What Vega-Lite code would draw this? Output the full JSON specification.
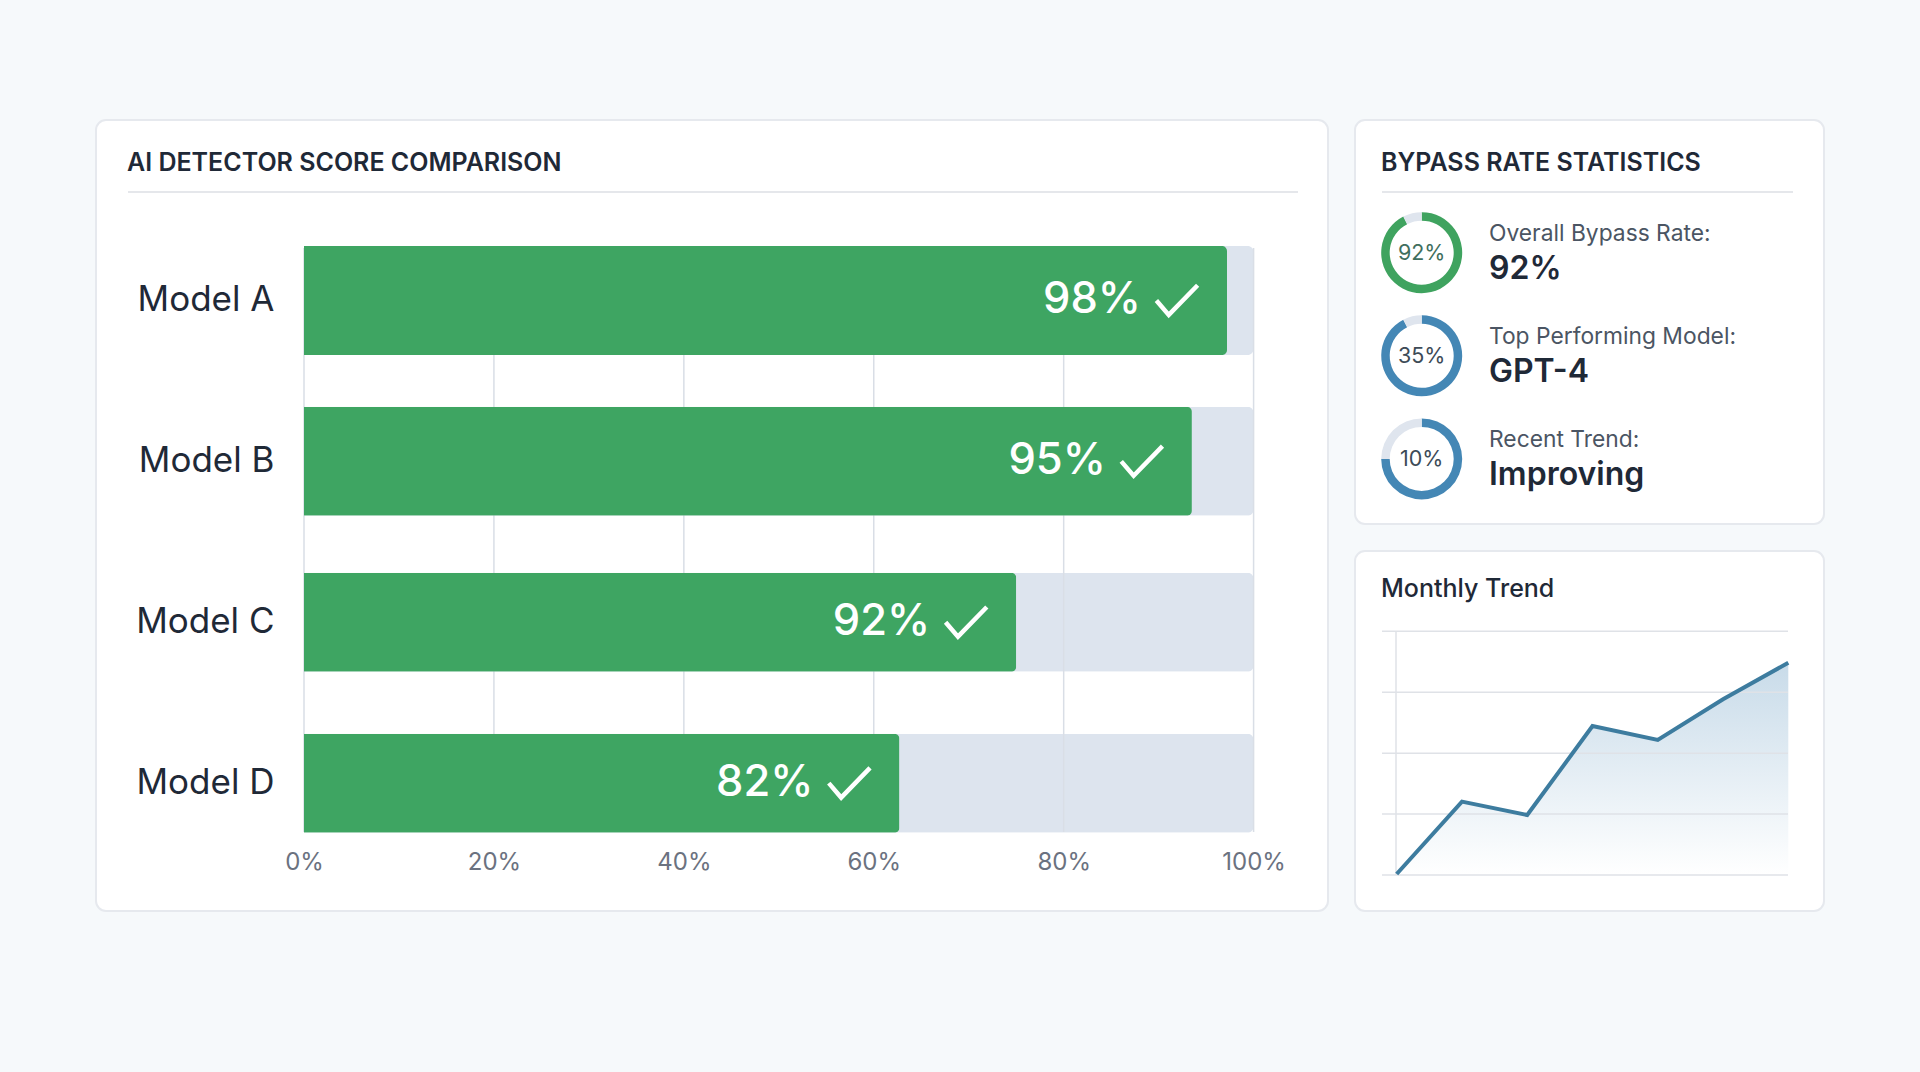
{
  "$schema": "https://vega.github.io/schema/vega-lite/v6.json",
  "background": "#f6f9fb",
  "padding": {"left": 95, "top": 119, "right": 96, "bottom": 162},
  "config": {"font": "Inter", "view": {"stroke": null}},
  "spacing": 25,
  "datasets": {
    "models": [
      {"model": "Model A", "bar": 97.2, "score": "98%", "track": 100},
      {"model": "Model B", "bar": 93.5, "score": "95%", "track": 100},
      {"model": "Model C", "bar": 75, "score": "92%", "track": 100},
      {"model": "Model D", "bar": 62.7, "score": "82%", "track": 100}
    ],
    "ticks": [{"tick": 0}, {"tick": 20}, {"tick": 40}, {"tick": 60}, {"tick": 80}, {"tick": 100}],
    "stats": [
      {"metric": "Overall Bypass Rate:", "ring": "92%", "value": "92%"},
      {"metric": "Top Performing Model:", "ring": "35%", "value": "GPT-4"},
      {"metric": "Recent Trend:", "ring": "10%", "value": "Improving"}
    ],
    "arcs": [
      {"metric": "Overall Bypass Rate:", "kind": "green", "from": 0, "to": 92.5},
      {"metric": "Overall Bypass Rate:", "kind": "rest", "from": 92.5, "to": 100},
      {"metric": "Top Performing Model:", "kind": "blue", "from": 0, "to": 92.5},
      {"metric": "Top Performing Model:", "kind": "rest", "from": 92.5, "to": 100},
      {"metric": "Recent Trend:", "kind": "blue", "from": 0, "to": 75},
      {"metric": "Recent Trend:", "kind": "rest", "from": 75, "to": 100}
    ],
    "trend": [
      {"month": "Jan", "rate": 0.4},
      {"month": "Feb", "rate": 30.1},
      {"month": "Mar", "rate": 24.6},
      {"month": "Apr", "rate": 61.1},
      {"month": "May", "rate": 55.4},
      {"month": "Jun", "rate": 72.1},
      {"month": "Jul", "rate": 87.1}
    ],
    "levels": [{"level": 0}, {"level": 25}, {"level": 50}, {"level": 75}, {"level": 100}]
  },
  "hconcat": [
    {
      "width": 1232,
      "height": 791,
      "view": {"fill": "#ffffff", "stroke": "#e6e9ee", "strokeWidth": 2, "cornerRadius": 10},
      "title": {"text": "AI DETECTOR SCORE COMPARISON", "anchor": "start", "frame": "group", "offset": -76, "dx": 31, "baseline": "alphabetic", "fontSize": 25, "fontWeight": 600, "color": "#1f2937"},
      "resolve": {"scale": {"x": "independent", "y": "independent"}},
      "layer": [
        {
          "data": {"values": [{"line": "divider"}]},
          "mark": {"type": "rule", "color": "#e5e7eb", "strokeWidth": 2},
          "encoding": {
            "x": {"datum": 0, "type": "quantitative", "axis": null, "scale": {"domain": [0, 1], "range": [32, 1202]}},
            "x2": {"datum": 1},
            "y": {"datum": 0, "type": "quantitative", "axis": null, "scale": {"domain": [0, 1], "range": [72, 72]}}
          }
        },
        {
          "data": {"name": "models"},
          "mark": {"type": "bar", "color": "#dde4ee", "cornerRadiusEnd": 6},
          "encoding": {
            "x": {
              "field": "track", "type": "quantitative", "title": null,
              "scale": {"domain": [0, 100], "range": [208, 1157.6], "nice": false},
              "axis": {"orient": "bottom", "offset": -61, "values": [0, 20, 40, 60, 80, 100], "labelExpr": "datum.value + '%'", "domain": false, "ticks": false, "grid": false, "labelPadding": 0, "labelFontSize": 24, "labelColor": "#6b7280", "labelFlush": false}
            },
            "y": {
              "field": "model", "type": "nominal", "title": null,
              "scale": {"domain": ["Model A", "Model B", "Model C", "Model D"], "range": [100, 743.6], "paddingInner": 0, "paddingOuter": 0},
              "axis": {"orient": "left", "offset": -178, "domain": false, "ticks": false, "grid": false, "labelPadding": 0, "labelFontSize": 35, "labelColor": "#1f2937"}
            }
          },
          "layer": [
            {"transform": [{"filter": "datum.bar >= 90"}], "mark": {"type": "bar", "color": "#dde4ee", "cornerRadiusEnd": 6, "size": 109}},
            {"transform": [{"filter": "datum.bar < 90"}], "mark": {"type": "bar", "color": "#dde4ee", "cornerRadiusEnd": 6, "size": 99}}
          ]
        },
        {
          "data": {"name": "ticks"},
          "mark": {"type": "rule", "color": "#d9dee6", "strokeWidth": 1.5},
          "encoding": {
            "x": {"field": "tick", "type": "quantitative", "axis": null, "scale": {"domain": [0, 100], "range": [208, 1157.6], "nice": false}},
            "y": {"datum": 0, "type": "quantitative", "axis": null, "scale": {"domain": [0, 1], "range": [128, 712]}},
            "y2": {"datum": 1}
          }
        },
        {
          "data": {"name": "models"},
          "encoding": {
            "x": {"field": "bar", "type": "quantitative", "axis": null, "scale": {"domain": [0, 100], "range": [208, 1157.6], "nice": false}},
            "y": {"field": "model", "type": "nominal", "axis": null, "scale": {"domain": ["Model A", "Model B", "Model C", "Model D"], "range": [100, 743.6], "paddingInner": 0, "paddingOuter": 0}}
          },
          "layer": [
            {"transform": [{"filter": "datum.bar >= 90"}], "mark": {"type": "bar", "color": "#3ea562", "cornerRadiusEnd": 5, "size": 109}},
            {"transform": [{"filter": "datum.bar < 90"}], "mark": {"type": "bar", "color": "#3ea562", "cornerRadiusEnd": 5, "size": 99}},
            {
              "mark": {"type": "text", "align": "right", "baseline": "middle", "dx": -86, "fontSize": 43.5, "fontWeight": 500, "color": "#ffffff"},
              "encoding": {"text": {"field": "score"}}
            },
            {
              "mark": {"type": "point", "xOffset": -50, "shape": "M-1,0L-0.4,0.7L1,-0.74", "size": 1700, "filled": false, "stroke": "#ffffff", "strokeWidth": 4.5, "opacity": 1}
            }
          ]
        }
      ]
    },
    {
      "spacing": 25,
      "vconcat": [
        {
          "width": 469,
          "height": 404,
          "view": {"fill": "#ffffff", "stroke": "#e6e9ee", "strokeWidth": 2, "cornerRadius": 10},
          "title": {"text": "BYPASS RATE STATISTICS", "anchor": "start", "frame": "group", "offset": -76, "dx": 26, "baseline": "alphabetic", "fontSize": 25, "fontWeight": 600, "color": "#1f2937"},
          "resolve": {"scale": {"x": "independent", "y": "independent"}},
          "layer": [
            {
              "data": {"values": [{"line": "divider"}]},
              "mark": {"type": "rule", "color": "#e5e7eb", "strokeWidth": 2},
              "encoding": {
                "x": {"datum": 0, "type": "quantitative", "axis": null, "scale": {"domain": [0, 1], "range": [27, 438]}},
                "x2": {"datum": 1},
                "y": {"datum": 0, "type": "quantitative", "axis": null, "scale": {"domain": [0, 1], "range": [72, 72]}}
              }
            },
            {
              "encoding": {
                "x": {"datum": "ring", "type": "nominal", "axis": null, "scale": {"type": "point", "domain": ["ring", "text"], "range": [66.7, 134], "padding": 0}},
                "y": {"field": "metric", "type": "nominal", "sort": null, "axis": null, "scale": {"domain": ["Overall Bypass Rate:", "Top Performing Model:", "Recent Trend:"], "range": [81.1, 390.5], "paddingInner": 0, "paddingOuter": 0}}
              },
              "layer": [
                {
                  "data": {"name": "arcs"},
                  "mark": {"type": "arc", "radius": 40.5, "radius2": 32},
                  "encoding": {
                    "theta": {"field": "from", "type": "quantitative", "scale": {"domain": [0, 100]}},
                    "theta2": {"field": "to"},
                    "color": {"field": "kind", "type": "nominal", "legend": null, "scale": {"domain": ["green", "blue", "rest"], "range": ["#3fa35f", "#4487b5", "#dfe5ee"]}}
                  }
                },
                {
                  "data": {"name": "stats"},
                  "mark": {"type": "text", "align": "center", "baseline": "middle", "dy": 1, "fontSize": 21.5},
                  "encoding": {
                    "text": {"field": "ring"},
                    "color": {"condition": {"test": "datum.ring == '92%'", "value": "#3f6f5e"}, "value": "#3d4b57"}
                  }
                },
                {
                  "data": {"name": "stats"},
                  "mark": {"type": "text", "align": "left", "baseline": "alphabetic", "dy": -12, "fontSize": 22.8, "color": "#4b5563"},
                  "encoding": {
                    "x": {"datum": "text", "type": "nominal", "axis": null, "scale": {"type": "point", "domain": ["ring", "text"], "range": [66.7, 134], "padding": 0}},
                    "text": {"field": "metric"}
                  }
                },
                {
                  "data": {"name": "stats"},
                  "mark": {"type": "text", "align": "left", "baseline": "alphabetic", "dy": 26, "fontSize": 32, "fontWeight": 600, "color": "#1f2937"},
                  "encoding": {
                    "x": {"datum": "text", "type": "nominal", "axis": null, "scale": {"type": "point", "domain": ["ring", "text"], "range": [66.7, 134], "padding": 0}},
                    "text": {"field": "value"}
                  }
                }
              ]
            }
          ]
        },
        {
          "width": 469,
          "height": 360,
          "view": {"fill": "#ffffff", "stroke": "#e6e9ee", "strokeWidth": 2, "cornerRadius": 10},
          "title": {"text": "Monthly Trend", "anchor": "start", "frame": "group", "offset": -71, "dx": 26, "baseline": "alphabetic", "fontSize": 25, "fontWeight": 500, "color": "#1f2937"},
          "resolve": {"scale": {"x": "independent"}},
          "layer": [
            {
              "data": {"name": "trend"},
              "mark": {"type": "area", "color": {"gradient": "linear", "x1": 0, "y1": 0, "x2": 0, "y2": 1, "stops": [{"offset": 0, "color": "#c8dbe9"}, {"offset": 1, "color": "#ffffff"}]}},
              "encoding": {
                "x": {"field": "month", "type": "nominal", "sort": null, "axis": null, "scale": {"type": "point", "range": [41.7, 433.3], "padding": 0}},
                "y": {"field": "rate", "type": "quantitative", "axis": null, "scale": {"domain": [0, 100], "range": [324, 80.3], "nice": false}}
              }
            },
            {
              "data": {"name": "levels"},
              "mark": {"type": "rule", "color": "#dfe2e7", "strokeWidth": 1.5},
              "encoding": {
                "x": {"datum": 0, "type": "quantitative", "axis": null, "scale": {"domain": [0, 1], "range": [27, 433]}},
                "x2": {"datum": 1},
                "y": {"field": "level", "type": "quantitative", "axis": null, "scale": {"domain": [0, 100], "range": [324, 80.3], "nice": false}}
              }
            },
            {
              "data": {"values": [{"line": "axis"}]},
              "mark": {"type": "rule", "color": "#dfe2e7", "strokeWidth": 1.5},
              "encoding": {
                "x": {"datum": 0, "type": "quantitative", "axis": null, "scale": {"domain": [0, 1], "range": [41, 41]}},
                "y": {"datum": 0, "type": "quantitative", "axis": null, "scale": {"domain": [0, 100], "range": [324, 80.3], "nice": false}},
                "y2": {"datum": 100}
              }
            },
            {
              "data": {"name": "trend"},
              "mark": {"type": "line", "color": "#3d7c9f", "strokeWidth": 4},
              "encoding": {
                "x": {"field": "month", "type": "nominal", "sort": null, "axis": null, "scale": {"type": "point", "range": [41.7, 433.3], "padding": 0}},
                "y": {"field": "rate", "type": "quantitative", "axis": null, "scale": {"domain": [0, 100], "range": [324, 80.3], "nice": false}}
              }
            }
          ]
        }
      ]
    }
  ]
}
